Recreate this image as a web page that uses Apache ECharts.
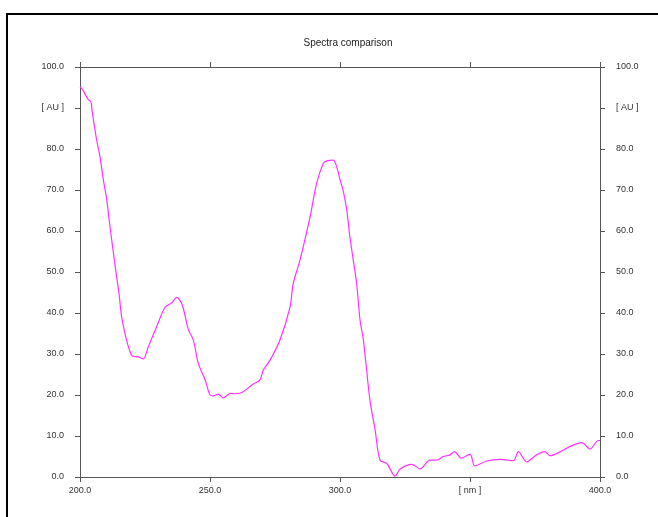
<!DOCTYPE html>
<html>
<head>
<meta charset="utf-8">
<script src="https://cdn.jsdelivr.net/npm/echarts@6/dist/echarts.min.js"></script>
<style>
  html, body { margin: 0; padding: 0; background: #fff; }
  #chart { width: 658px; height: 517px; }
</style>
</head>
<body>
<div id="chart"></div>
<script>
// wavelength [nm] and absorbance [AU]
const wavelengths = [
  200, 201, 203, 204.2, 204.6, 206.4, 207.7, 209, 210.3, 211.2, 212.2, 213.7, 215, 216,
  217.6, 219, 220.1, 222.4, 224.3, 226.3, 229.5, 232.7, 235.3, 237.2, 239.3, 241.7,
  243.6, 245.5, 248.1, 250, 251.3, 253.2, 255.1, 257.7, 260, 262.8, 266, 269.2, 270.5,
  273.1, 276.9, 280.8, 282, 284.6, 288.5, 291, 293.6, 294.9, 297.4, 298.7, 300, 301.3,
  302.6, 303.8, 305.1, 306.4, 307.7, 309, 311.5, 313.5, 315.4, 318, 321.2, 323, 327.6,
  330.8, 334.6, 337.2, 339.7, 342.3, 344, 346.8, 350, 351.9, 356.4, 361.5, 366.7, 368.6,
  371.8, 375.6, 378.8, 380.8, 386, 389, 393, 396.2, 399.3, 400
];
const absorbance = [
  95.1, 94.5, 92.2, 91.5, 89.5, 82.2, 78.1, 72.4, 67.6, 62.7, 57.8, 50.5, 44.8, 39.1,
  34.2, 31.0, 29.5, 29.3, 28.8, 31.8, 36.7, 41.4, 42.5, 43.8, 42.0, 35.9,
  33.4, 27.7, 23.7, 20.0, 19.8, 20.2, 19.3, 20.4, 20.3, 20.8, 22.4, 23.7, 26.1,
  28.5, 33.4, 41.5, 47.2, 52.9, 63.5, 71.6, 76.5, 77.1, 77.3, 75.7, 72.6, 69.6,
  65.1, 58.6, 52.9, 47.2, 38.3, 33.4, 18.8, 11.5, 4.1, 3.3, 0.2, 1.9, 3.1,
  2.0, 4.1, 4.1, 5.0, 5.4, 6.2, 4.6, 5.6, 2.7, 3.9, 4.3, 4.0, 6.2,
  3.7, 5.4, 6.2, 5.2, 6.6, 7.6, 8.4, 6.8, 8.9, 8.9
];
const xUnitTick = 350;   // tick that shows the unit instead of a number
const yUnitTick = 90;

const chart = echarts.init(document.getElementById('chart'));

const axisLine = () => ({ show: true, onZero: false, lineStyle: { color: '#555', width: 1 } });
const axisTick = () => ({ show: true, length: 5, lineStyle: { color: '#555' } });
const labelFont = { fontFamily: 'Liberation Sans, Arial, sans-serif', fontSize: 9, color: '#333' };

const yLabel = (v) => (v === yUnitTick ? '[ AU ]' : v.toFixed(1));
const xLabel = (v) => (v === xUnitTick ? '[ nm ]' : v.toFixed(1));

const seriesData = wavelengths.map((w, i) => [w, absorbance[i]]);

chart.setOption({
  animation: false,
  title: {
    text: 'Spectra comparison',
    left: 343,
    textAlign: 'center',
    top: 33,
    textStyle: { fontFamily: 'Liberation Sans, Arial, sans-serif', fontSize: 10, fontWeight: 'normal', color: '#222' },
  },
  graphic: [
    {
      type: 'rect',
      shape: { x: 7, y: 14, width: 700, height: 600 },
      style: { fill: 'none', stroke: '#000', lineWidth: 2 },
      silent: true,
    },
  ],
  grid: { left: 80, right: 58, top: 67, bottom: 40 },
  xAxis: [
    {
      type: 'value', position: 'bottom', min: 200, max: 400, interval: 50,
      axisLine: axisLine(), axisTick: axisTick(), splitLine: { show: false },
      axisLabel: { ...labelFont, margin: 9, formatter: xLabel },
    },
    {
      type: 'value', position: 'top', min: 200, max: 400, interval: 50,
      axisLine: axisLine(), axisTick: axisTick(), splitLine: { show: false },
      axisLabel: { show: false },
    },
  ],
  yAxis: [
    {
      type: 'value', position: 'left', min: 0, max: 100, interval: 10,
      axisLine: axisLine(), axisTick: axisTick(), splitLine: { show: false },
      axisLabel: { ...labelFont, margin: 16, formatter: yLabel },
    },
    {
      type: 'value', position: 'right', min: 0, max: 100, interval: 10,
      axisLine: axisLine(), axisTick: axisTick(), splitLine: { show: false },
      axisLabel: { ...labelFont, margin: 16, formatter: yLabel },
    },
  ],
  series: [
    {
      type: 'line',
      data: seriesData,
      showSymbol: false,
      smooth: 0.3,
      lineStyle: { color: '#ff33ff', width: 1.2 },
    },
  ],
});
</script>
</body>
</html>
